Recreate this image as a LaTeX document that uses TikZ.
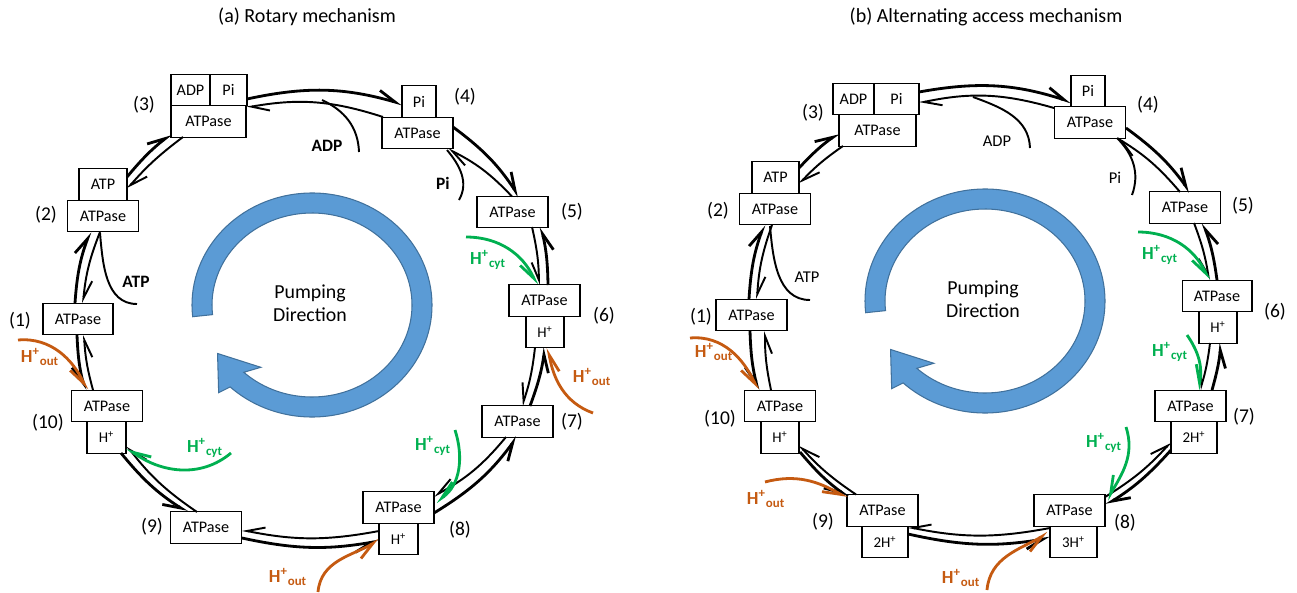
\documentclass[tikz,border=0pt]{standalone}
\usepackage{fontspec}
\setmainfont{Carlito}
\usetikzlibrary{arrows.meta,calc}
\definecolor{ringfill}{HTML}{5B9BD5}
\definecolor{ringedge}{HTML}{41719C}
\definecolor{hout}{HTML}{C55A11}
\definecolor{hcyt}{HTML}{00B050}
\begin{document}
\begin{tikzpicture}[x=0.02cm,y=0.02cm,
 box/.style={draw,line width=0.6pt,fill=white,inner sep=0pt,minimum height=0.63cm,font=\fontsize{9.2}{11}\selectfont},
 sbox/.style={box,font=\fontsize{8.5}{10}\selectfont},
 wbig/.style={minimum width=1.43cm},
 num/.style={font=\fontsize{11.1}{13}\selectfont,inner sep=0pt},
 ttl/.style={font=\fontsize{11.4}{13}\selectfont,inner sep=0pt},
 pump/.style={font=\fontsize{11.3}{13}\selectfont,align=center,inner sep=0pt},
 mol/.style={font=\fontsize{9.9}{11}\selectfont\bfseries,inner sep=0pt},
 molb/.style={font=\fontsize{9.4}{11}\selectfont,inner sep=0pt},
 hlab/.style={font=\fontsize{10.5}{12}\selectfont\bfseries,inner sep=0pt},
 outl/.style={line width=1.6pt},
 innl/.style={line width=1.1pt},
 hleft/.style={-{Straight Barb[harpoon,length=10pt,width=8pt]}},
 hright/.style={-{Straight Barb[harpoon,swap,length=10pt,width=8pt]}},
 curv/.style={line width=1.1pt},
 carr/.style={line width=1.6pt,hright},
 bluering/.style={fill=ringfill,draw=ringedge,line width=0.6pt}
]
\useasboundingbox (0,0) rectangle (1297,-592);

% titles
\node[ttl] (ta) at (307,-17) {(a) Rotary mechanism};
\node[ttl] (tb) at (986,-17) {(b) Alternating access mechanism};

% rings
\coordinate (ca) at (312,-305);
\coordinate (cb) at (985,-301);
\path[bluering] ($(ca)+(186:120 and 112)$) arc[start angle=186,end angle=-133,x radius=120,y radius=112]
  -- ($(ca)+(-135:132 and 124)$) -- ($(ca)+(-151:108 and 100)$) -- ($(ca)+(-127:85 and 78)$)
  -- ($(ca)+(-133:100 and 92)$) arc[start angle=-133,end angle=186,x radius=100,y radius=92] -- cycle;
\path[bluering] ($(cb)+(186:120 and 112)$) arc[start angle=186,end angle=-133,x radius=120,y radius=112]
  -- ($(cb)+(-135:132 and 124)$) -- ($(cb)+(-151:108 and 100)$) -- ($(cb)+(-127:85 and 78)$)
  -- ($(cb)+(-133:100 and 92)$) arc[start angle=-133,end angle=186,x radius=100,y radius=92] -- cycle;
\node[pump] (pa) at (310,-303) {Pumping\\Direction};
\node[pump] (pb) at (983,-299) {Pumping\\Direction};

% ---------- (a) nodes ----------
\node[box,minimum width=1.5cm] (a3) at (208.5,-121.5) {ATPase};
\node[box,minimum width=0.78cm] (a3adp) at (190.5,-90) {ADP};
\node[box,minimum width=0.74cm] (a3pi) at (228.5,-90) {Pi};
\node[box,minimum width=1.42cm] (a4) at (417.5,-133) {ATPase};
\node[box,minimum width=0.68cm] (a4pi) at (419,-101.5) {Pi};
\node[box,wbig] (a2) at (103,-216) {ATPase};
\node[box,minimum width=0.96cm] (a2atp) at (103,-184.5) {ATP};
\node[box,minimum width=1.4cm] (a1) at (78,-319) {ATPase};
\node[box,wbig] (a10) at (107,-406) {ATPase};
\node[sbox,minimum width=0.78cm] (a10h) at (106.5,-437.5) {H\textsuperscript{+}};
\node[box,wbig] (a9) at (206,-527.5) {ATPase};
\node[box,minimum width=1.42cm] (a8) at (398.5,-507.5) {ATPase};
\node[sbox,minimum width=0.78cm] (a8h) at (398.5,-539) {H\textsuperscript{+}};
\node[box,minimum width=1.42cm] (a7) at (517.5,-421.5) {ATPase};
\node[box,minimum width=1.42cm] (a5) at (512.5,-212) {ATPase};
\node[box,minimum width=1.42cm] (a6) at (544.5,-300.5) {ATPase};
\node[sbox,minimum width=0.76cm] (a6h) at (545,-332) {H\textsuperscript{+}};

\node[num] (la3) at (144,-105) {(3)};
\node[num] (la4) at (465,-97) {(4)};
\node[num] (la2) at (46,-215) {(2)};
\node[num] (la1) at (20,-321) {(1)};
\node[num] (la10) at (48,-423) {(10)};
\node[num] (la9) at (152,-527) {(9)};
\node[num] (la8) at (460,-530) {(8)};
\node[num] (la7) at (572,-422) {(7)};
\node[num] (la5) at (572,-212) {(5)};
\node[num] (la6) at (604,-316) {(6)};

% (a) connectors: normal segments
\draw[outl,hleft] ($(a1)+(-3,16)$) to[bend left=8] ($(a2)+(-13,-16)$);
\draw[innl,hleft] ($(a2)+(-3,-16)$) to[bend right=8] ($(a1)+(5,16)$);
\draw[outl,hleft] ($(a2atp)+(24,7.5)$) to[bend left=6] ($(a3)+(-37.5,-12.5)$);
\draw[innl,hleft] ($(a3)+(-25.5,-15.5)$) to[bend right=6] ($(a2atp)+(24,-4.5)$);
\draw[outl,hleft] ($(a3pi)+(18.5,-9)$) to[bend left=14] ($(a4pi)+(-17,-2.5)$);
\draw[innl,hleft] ($(a4)+(-34.5,16)$) to[bend right=14] ($(a3)+(38,14)$);
\draw[outl,hleft] ($(a4)+(35.5,6)$) to[bend left=10] ($(a5)+(6.5,15.5)$);
\draw[innl,hleft] ($(a5)+(-0.5,15.5)$) to[bend right=10] ($(a4)+(30.5,-16)$);
% (a) mirrored segments
\draw[outl,hright] ($(a6)+(3.5,15.5)$) to[bend right=6] ($(a5)+(28.5,-15)$);
\draw[innl,hright] ($(a5)+(19.5,-15)$) to[bend left=6] ($(a6)+(-5.5,15.5)$);
\draw[outl,hright] ($(a7)+(12.5,15.5)$) to[bend right=6] ($(a6h)+(0,-15.5)$);
\draw[innl,hright] ($(a6h)+(-10,-15.5)$) to[bend left=6] ($(a7)+(4.5,15.5)$);
\draw[outl,hright] ($(a8)+(35.5,-5.5)$) to[bend right=11] ($(a7)+(-0.5,-15.5)$);
\draw[innl,hright] ($(a7)+(-11.5,-15.5)$) to[bend left=11] ($(a8)+(35.5,11.5)$);
\draw[outl,hright] ($(a9)+(36,-10.5)$) to[bend right=11] ($(a8h)+(-19.5,-2)$);
\draw[innl,hright] ($(a8h)+(-19.5,8)$) to[bend left=11] ($(a9)+(36,-2.5)$);
\draw[outl,hright] ($(a10h)+(14.5,-15.5)$) to[bend right=9] ($(a9)+(-19,15.5)$);
\draw[innl,hright] ($(a9)+(-9,15.5)$) to[bend left=9] ($(a10h)+(20.5,-8.5)$);
\draw[outl,hright] ($(a1)+(-1,-16)$) to[bend right=6] ($(a10)+(-22,16)$);
\draw[innl,hright] ($(a10)+(-14,16)$) to[bend left=6] ($(a1)+(6,-16)$);

% (a) ADP / Pi / ATP release curves
\coordinate (aadps) at (322,-100);
\draw[curv] (aadps) to[out=-25,in=92] (359,-152);
\draw[curv] ($(a4)+(29.5,-17)$) to[out=-50,in=60] (459,-200);
\draw[curv] ($(a2)+(-3,-17)$) to[out=-85,in=180] (137,-304);
\node[mol] (aadp) at (327,-146) {ADP};
\node[mol] (api) at (443,-183) {Pi};
\node[mol] (aatp) at (136,-282) {ATP};

% (a) proton arrows
\coordinate (ao1s) at (18,-340);
\coordinate (ao6s) at (593,-413);
\coordinate (ao8s) at (318,-592);
\coordinate (ag6s) at (466,-237);
\coordinate (ag8s) at (455,-430);
\coordinate (ag10s) at (231,-453);
\draw[carr,hout] (ao1s) to[out=5,in=115] ($(a10)+(-20,16)$);
\draw[carr,hout] (ao6s) to[out=160,in=-80] ($(a6h)+(3,-16)$);
\draw[carr,hout] (ao8s) to[out=85,in=-150] ($(a8h)+(-19.5,-1)$);
\draw[carr,hcyt] (ag6s) to[out=0,in=115] ($(a6)+(-7.5,15.5)$);
\draw[carr,hcyt] (ag8s) to[out=-72,in=35] ($(a8)+(37.5,5.5)$);
\draw[carr,hcyt] (ag10s) to[out=-140,in=-36] ($(a10h)+(20.5,-10.5)$);
\node[hlab,text=hout] (ho1) at (40,-357) {H\textsuperscript{+}\textsubscript{out}};
\node[hlab,text=hout] (ho6) at (592,-377) {H\textsuperscript{+}\textsubscript{out}};
\node[hlab,text=hout] (ho8) at (288,-577) {H\textsuperscript{+}\textsubscript{out}};
\node[hlab,text=hcyt] (hc6) at (488,-260) {H\textsuperscript{+}\textsubscript{cyt}};
\node[hlab,text=hcyt] (hc8) at (433,-446) {H\textsuperscript{+}\textsubscript{cyt}};
\node[hlab,text=hcyt] (hc10) at (205,-448) {H\textsuperscript{+}\textsubscript{cyt}};

% ---------- (b) nodes ----------
\node[box,minimum width=1.54cm] (b3) at (877.5,-130.5) {ATPase};
\node[box,minimum width=0.82cm] (b3adp) at (853.5,-99) {ADP};
\node[box,minimum width=0.9cm] (b3pi) at (896.5,-99) {Pi};
\node[box,wbig] (b4) at (1090,-122.5) {ATPase};
\node[box,minimum width=0.68cm] (b4pi) at (1088,-91) {Pi};
\node[box,wbig] (b2) at (775,-209) {ATPase};
\node[box,minimum width=0.94cm] (b2atp) at (775.5,-177.5) {ATP};
\node[box,minimum width=1.42cm] (b1) at (751.5,-315) {ATPase};
\node[box,wbig] (b10) at (780,-406) {ATPase};
\node[sbox,minimum width=0.76cm] (b10h) at (780,-437.5) {H\textsuperscript{+}};
\node[box,minimum width=1.42cm] (b9) at (882.5,-510.5) {ATPase};
\node[sbox,minimum width=0.92cm] (b9h) at (885,-542) {2H\textsuperscript{+}};
\node[box,minimum width=1.42cm] (b8) at (1069.5,-510.5) {ATPase};
\node[sbox,minimum width=0.94cm] (b8h) at (1073.5,-542) {3H\textsuperscript{+}};
\node[box,minimum width=1.42cm] (b7) at (1190.5,-406) {ATPase};
\node[sbox,minimum width=0.92cm] (b7h) at (1194,-437.5) {2H\textsuperscript{+}};
\node[box,minimum width=1.4cm] (b6) at (1217,-296) {ATPase};
\node[sbox,minimum width=0.76cm] (b6h) at (1218,-327.5) {H\textsuperscript{+}};
\node[box,wbig] (b5) at (1185,-207.5) {ATPase};

\node[num] (lb3) at (813,-113) {(3)};
\node[num] (lb4) at (1148,-105) {(4)};
\node[num] (lb2) at (718,-211) {(2)};
\node[num] (lb1) at (701,-317) {(1)};
\node[num] (lb10) at (720,-419) {(10)};
\node[num] (lb9) at (823,-522) {(9)};
\node[num] (lb8) at (1125,-523) {(8)};
\node[num] (lb7) at (1244,-417) {(7)};
\node[num] (lb5) at (1243,-206) {(5)};
\node[num] (lb6) at (1275,-312) {(6)};

% (b) connectors: normal
\draw[outl,hleft] ($(b1)+(-2.5,16)$) to[bend left=8] ($(b2)+(-11,-16)$);
\draw[innl,hleft] ($(b2)+(-3,-16)$) to[bend right=8] ($(b1)+(5.5,16)$);
\draw[outl,hleft] ($(b2atp)+(23.5,9.5)$) to[bend left=6] ($(b3)+(-38.5,-2.5)$);
\draw[innl,hleft] ($(b3)+(-34.5,-15.5)$) to[bend right=6] ($(b2atp)+(23.5,-6.5)$);
\draw[outl,hleft] ($(b3pi)+(22.5,7)$) to[bend left=14] ($(b4pi)+(-17,-11)$);
\draw[innl,hleft] ($(b4)+(-36,14.5)$) to[bend right=14] ($(b3pi)+(22.5,-4)$);
\draw[outl,hleft] ($(b4)+(36,-5.5)$) to[bend left=9] ($(b5)+(5,15.5)$);
\draw[innl,hleft] ($(b5)+(-5,15.5)$) to[bend right=9] ($(b4)+(27,-15.5)$);
\draw[outl,hleft] ($(b7h)+(-23,-12.5)$) to[bend left=8] ($(b8)+(36.5,5.5)$);
\draw[innl,hleft] ($(b8)+(35.5,13.5)$) to[bend right=8] ($(b7h)+(-23,-4.5)$);
% (b) mirrored
\draw[outl,hright] ($(b6)+(0,16)$) to[bend right=6] ($(b5)+(18,-15.5)$);
\draw[innl,hright] ($(b5)+(9,-15.5)$) to[bend left=6] ($(b6)+(-8,16)$);
\draw[outl,hright] ($(b7)+(21.5,16)$) to[bend right=5] ($(b6h)+(3,-15.5)$);
\draw[innl,hright] ($(b6h)+(-8,-15.5)$) to[bend left=5] ($(b7)+(9.5,16)$);
\draw[outl,hright] ($(b9h)+(23,8)$) to[bend right=11] ($(b8h)+(-23.5,4)$);
\draw[innl,hright] ($(b8h)+(-23.5,14)$) to[bend left=11] ($(b9h)+(23,15)$);
\draw[outl,hright] ($(b10h)+(20,-14.5)$) to[bend right=7] ($(b9)+(-34.5,13.5)$);
\draw[innl,hright] ($(b9)+(-26.5,16)$) to[bend left=7] ($(b10h)+(19,-7.5)$);
\draw[outl,hright] ($(b1)+(-1.5,-16)$) to[bend right=6] ($(b10)+(-22,16)$);
\draw[innl,hright] ($(b10)+(-9,16)$) to[bend left=6] ($(b1)+(13.5,-16)$);

% (b) release curves
\coordinate (badps) at (973,-97);
\draw[curv] (badps) to[out=-20,in=92] (1030,-148);
\draw[curv] ($(b4)+(27,-15.5)$) to[out=-45,in=70] (1132,-195);
\draw[curv] ($(b2)+(-5,-17)$) to[out=-85,in=180] (810,-300);
\node[molb] (badp) at (997,-141) {ADP};
\node[molb] (bpi) at (1115,-178) {Pi};
\node[molb] (batp) at (807,-277) {ATP};

% (b) proton arrows
\coordinate (bo1s) at (690,-338);
\coordinate (bo9s) at (765,-482);
\coordinate (bo8s) at (987,-590);
\coordinate (bg6s) at (1138,-232);
\coordinate (bg7s) at (1187,-335);
\coordinate (bg8s) at (1126,-427);
\draw[carr,hout] (bo1s) to[out=5,in=115] ($(b10)+(-22,16)$);
\draw[carr,hout] (bo9s) to[out=15,in=150] ($(b9)+(-35.5,12.5)$);
\draw[carr,hout] (bo8s) to[out=85,in=-150] ($(b8h)+(-25.5,9)$);
\draw[carr,hcyt] (bg6s) to[out=0,in=115] ($(b6)+(-8,16)$);
\draw[carr,hcyt] (bg7s) to[out=-55,in=78] ($(b7)+(7.5,16)$);
\draw[carr,hcyt] (bg8s) to[out=-72,in=60] ($(b8)+(37.5,10.5)$);
\node[hlab,text=hout] (hbo1) at (714,-352) {H\textsuperscript{+}\textsubscript{out}};
\node[hlab,text=hout] (hbo9) at (766,-499) {H\textsuperscript{+}\textsubscript{out}};
\node[hlab,text=hout] (hbo8) at (961,-578) {H\textsuperscript{+}\textsubscript{out}};
\node[hlab,text=hcyt] (hbc6) at (1160,-255) {H\textsuperscript{+}\textsubscript{cyt}};
\node[hlab,text=hcyt] (hbc7) at (1170,-352) {H\textsuperscript{+}\textsubscript{cyt}};
\node[hlab,text=hcyt] (hbc8) at (1104,-443) {H\textsuperscript{+}\textsubscript{cyt}};
\end{tikzpicture}
\end{document}
